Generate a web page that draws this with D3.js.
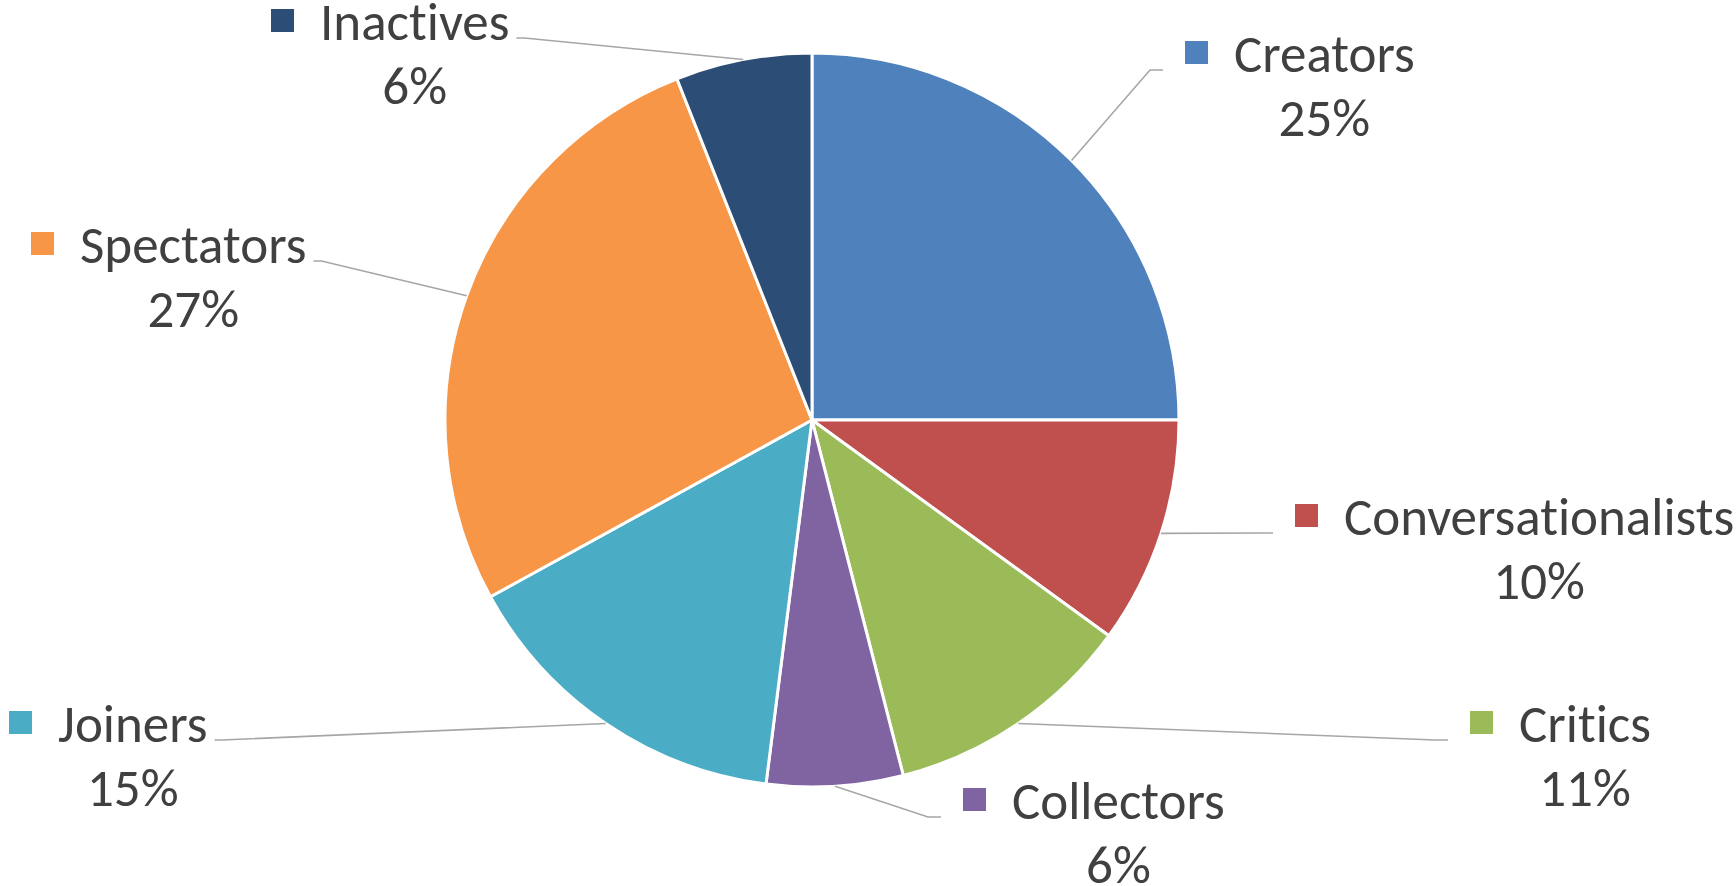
<!DOCTYPE html>
<html>
<head>
<meta charset="utf-8">
<script src="https://cdn.jsdelivr.net/npm/d3@7"></script>
<style>
  html, body { margin: 0; padding: 0; background: #ffffff; }
  svg { display: block; }
  text {
    font-family: Carlito, Calibri, Lato, "Open Sans", sans-serif;
    font-variant-ligatures: none;
    fill: #404040;
  }
</style>
</head>
<body>
<svg id="chart" width="1736" height="886"></svg>
<script>
// Audience segments and their shares (%)
const categories = ["Creators", "Conversationalists", "Critics", "Collectors", "Joiners", "Spectators", "Inactives"];
const shares = [25, 10, 11, 6, 15, 27, 6];
const colors = ["#4F81BD", "#C0504D", "#9BBB59", "#8064A2", "#4BACC6", "#F79646", "#2C4D75"];

// Label placement: left edge of the key square and baseline of the name line
const labelLayout = {
  "Creators":           { x: 1185, y: 72,  side: "right" },
  "Conversationalists": { x: 1295, y: 535, side: "right" },
  "Critics":            { x: 1470, y: 742, side: "right" },
  "Collectors":         { x: 963,  y: 819, side: "right" },
  "Joiners":            { x: 9,    y: 742, side: "left" },
  "Spectators":         { x: 31,   y: 263, side: "left" },
  "Inactives":          { x: 271,  y: 40,  side: "left" }
};

const cx = 812, cy = 420, radius = 367;
const fontSize = 53;

const svg = d3.select("#chart");
const data = categories.map((c, i) => ({ name: c, value: shares[i], color: colors[i] }));

const pie = d3.pie().value(d => d.value).sort(null);
const arcs = pie(data);
const arc = d3.arc().innerRadius(0).outerRadius(radius);

const g = svg.append("g").attr("transform", `translate(${cx},${cy})`);

g.selectAll("path.slice")
  .data(arcs)
  .join("path")
  .attr("class", "slice")
  .attr("d", arc)
  .attr("fill", d => d.data.color)
  .attr("stroke", "#ffffff")
  .attr("stroke-width", 3)
  .attr("stroke-linejoin", "round");

// Data labels: key square, category name and percentage
const labels = svg.append("g");

arcs.forEach(a => {
  const L = labelLayout[a.data.name];
  const lg = labels.append("g");
  lg.append("rect")
    .attr("x", L.x).attr("y", L.y - 31)
    .attr("width", 23).attr("height", 23)
    .attr("fill", a.data.color);
  const nameText = lg.append("text")
    .attr("x", L.x + 49).attr("y", L.y)
    .attr("font-size", fontSize)
    .text(a.data.name);
  const w = nameText.node().getComputedTextLength();
  lg.append("text")
    .attr("x", L.x + 49 + w / 2).attr("y", L.y + 64)
    .attr("text-anchor", "middle")
    .attr("font-size", fontSize)
    .text(d3.format(".0%")(a.data.value / 100));

  // Leader line from the slice edge midpoint to the label
  const mid = (a.startAngle + a.endAngle) / 2;
  const px = cx + radius * Math.sin(mid);
  const py = cy - radius * Math.cos(mid);
  let ex, ey = L.y - 2, bx;
  if (L.side === "right") {
    ex = L.x - 22;
    bx = ex - 13;
  } else {
    ex = L.x + 49 + w + 7;
    bx = ex + 8;
  }
  svg.append("path")
    .attr("d", d3.line()([[px, py], [bx, ey], [ex, ey]]))
    .attr("fill", "none")
    .attr("stroke", "#A6A6A6")
    .attr("stroke-width", 1.6);
});
</script>
</body>
</html>
